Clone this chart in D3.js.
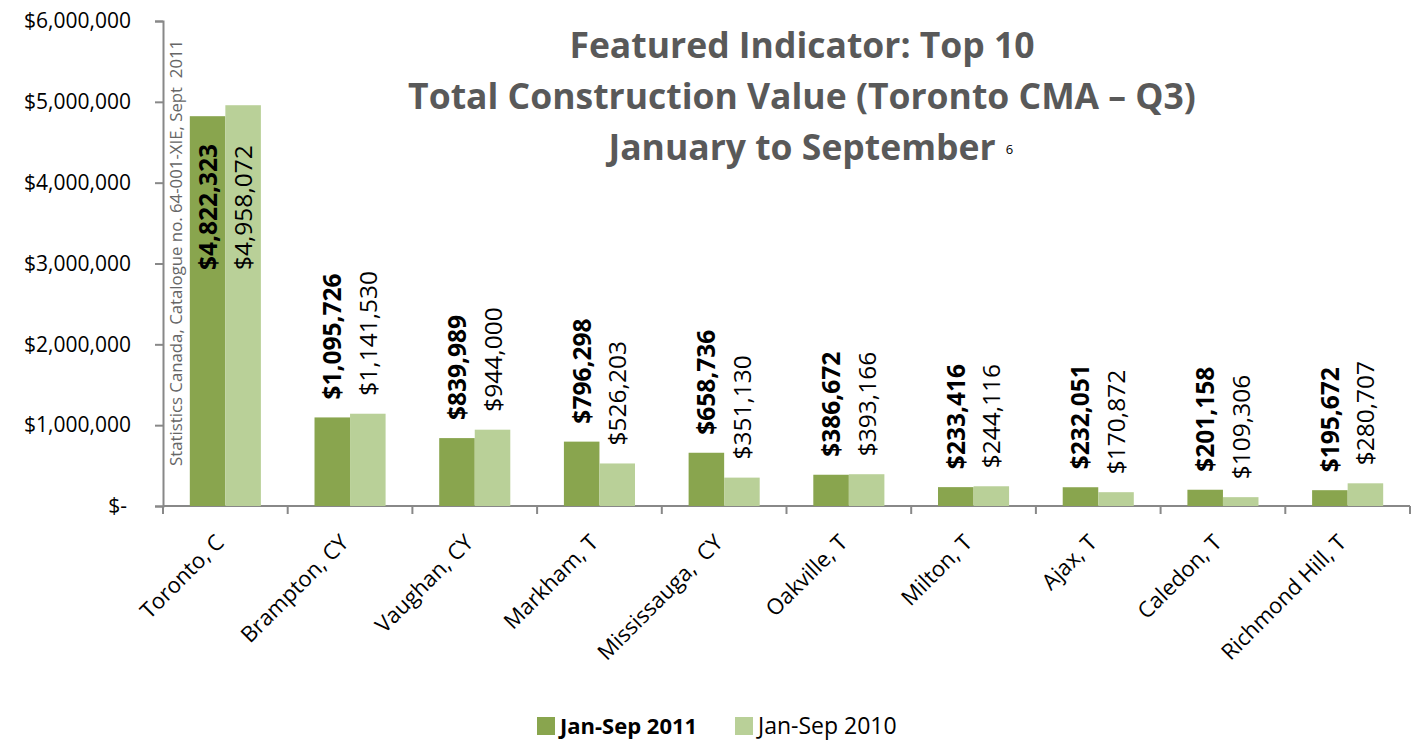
<!DOCTYPE html>
<html>
<head>
<meta charset="utf-8">
<script src="https://cdn.jsdelivr.net/npm/d3@7"></script>
<style>
	body { margin: 0; background: #fff; }
	svg, svg text { font-family: "Open Sans", Lato, sans-serif; }
</style>
</head>
<body>
<div id="chart"></div>
<script>
'use strict';

const cities = ['Toronto, C', 'Brampton, CY', 'Vaughan, CY', 'Markham, T', 'Mississauga,  CY',
	'Oakville, T', 'Milton, T', 'Ajax, T', 'Caledon, T', 'Richmond Hill, T'];
const v2011 = [4822323, 1095726, 839989, 796298, 658736, 386672, 233416, 232051, 201158, 195672];
const v2010 = [4958072, 1141530, 944000, 526203, 351130, 393166, 244116, 170872, 109306, 280707];
const series = ['Jan-Sep 2011', 'Jan-Sep 2010'];
const colors = ['#89a54e', '#b9d098'];
const yticks = [0, 1000000, 2000000, 3000000, 4000000, 5000000, 6000000];
const titleLines = ['Featured Indicator: Top 10', 'Total Construction Value (Toronto CMA \u2013 Q3)', 'January to September'];
const source = 'Statistics Canada, Catalogue no. 64-001-XIE, Sept  2011';

const W = 1415, H = 742;
const m = {left: 163, right: 5, top: 21, bottom: 236};

let svg = d3.select('#chart').append('svg')
	.attr('width', W)
	.attr('height', H)
	;

let x = d3.scaleBand().domain(cities).range([m.left, W - m.right]).paddingInner(0.43).paddingOuter(0.215);
let xs = d3.scaleBand().domain([0, 1]).range([0, x.bandwidth()]);
let y = d3.scaleLinear().domain([0, 6000000]).range([H - m.bottom, m.top]);

let fmt = d3.format(',');
let money = v => v === 0 ? '$-' : '$' + fmt(v);

// y axis
let ya = svg.append('g')
	.attr('transform', 'translate(' + m.left + ',0)')
	.call(d3.axisLeft(y).tickValues(yticks).tickFormat(money).tickSize(8).tickPadding(24))
	;
ya.attr('font-family', null).attr('font-size', null);
ya.select('.domain').attr('stroke', '#888').attr('stroke-width', 2);
ya.selectAll('.tick line').attr('stroke', '#888').attr('stroke-width', 2);
ya.selectAll('.tick text').attr('font-size', 21).attr('fill', '#000');
ya.selectAll('.tick text').filter(d => d === 0).attr('dx', -4);

// x axis, ticks sit between the categories
let step = x.step();
let bounds = d3.range(cities.length + 1).map(i => m.left + i * step);
let xa = svg.append('g');
xa.append('line')
	.attr('x1', m.left).attr('x2', W - m.right)
	.attr('y1', y(0)).attr('y2', y(0))
	.attr('stroke', '#888').attr('stroke-width', 2)
	;
xa.selectAll('line.tk').data(bounds).join('line')
	.classed('tk', true)
	.attr('x1', d => d).attr('x2', d => d)
	.attr('y1', y(0)).attr('y2', y(0) + 8)
	.attr('stroke', '#888').attr('stroke-width', 2)
	;
xa.selectAll('text').data(cities).join('text')
	.attr('transform', d => 'translate(' + (x(d) + x.bandwidth() / 2) + ',' + (y(0) + 38) + ') rotate(-45)')
	.attr('text-anchor', 'end')
	.attr('font-size', 22)
	.attr('fill', '#000')
	.attr('xml:space', 'preserve')
	.style('white-space', 'pre')
	.text(d => d)
	;

// bars
let data = [v2011, v2010];
let groups = svg.append('g').selectAll('g').data(data).join('g')
	.attr('fill', (d, i) => colors[i]);
groups.selectAll('rect').data((d, si) => d.map((v, ci) => ({v: v, s: si, c: cities[ci]}))).join('rect')
	.attr('x', d => x(d.c) + xs(d.s))
	.attr('y', d => y(d.v))
	.attr('width', xs.bandwidth())
	.attr('height', d => y(0) - y(d.v))
	;

// value labels (Toronto's go inside the bar, as in the original)
let labels = svg.append('g');
data.forEach((ser, si) => {
	ser.forEach((v, ci) => {
		let cx = x(cities[ci]) + xs(si) + xs.bandwidth() / 2;
		let inside = y(v) < 150;
		let by = inside ? 270 : y(v) - 18;
		labels.append('text')
			.attr('transform', 'translate(' + (cx + 9) + ',' + by + ') rotate(-90)')
			.attr('text-anchor', 'start')
			.attr('font-size', 24.5)
			.attr('font-weight', si === 0 ? 'bold' : 'normal')
			.attr('fill', '#000')
			.text(money(v))
			;
	});
});

// source note
svg.append('text')
	.attr('transform', 'translate(' + (m.left + 19) + ',' + 466 + ') rotate(-90)')
	.attr('font-size', 16.8)
	.attr('fill', '#666')
	.attr('xml:space', 'preserve')
	.style('white-space', 'pre')
	.text(source)
	;

// title
let tt = svg.append('g').attr('font-weight', 'bold').attr('fill', '#595959').attr('font-size', 35.5).attr('text-anchor', 'middle');
let last;
titleLines.forEach((t, i) => {
	last = tt.append('text').attr('x', 802).attr('y', 58 + i * 51).text(t);
});
let bb = last.node().getBBox();
svg.append('text')
	.attr('x', bb.x + bb.width + 10).attr('y', 154)
	.attr('font-size', 13)
	.attr('fill', '#000')
	.attr('font-family', 'Arial, sans-serif')
	.text('6')
	;

// legend
let lg = svg.append('g').attr('transform', 'translate(537,717)');
let lx = [0, 198];
series.forEach((s, i) => {
	lg.append('rect').attr('x', lx[i]).attr('y', 0).attr('width', 18).attr('height', 18).attr('fill', colors[i]);
	lg.append('text')
		.attr('x', lx[i] + 23).attr('y', 17)
		.attr('font-size', i === 0 ? 22 : 23)
		.attr('font-weight', i === 0 ? 'bold' : 'normal')
		.attr('fill', '#000')
		.text(s)
		;
});
</script>
</body>
</html>
